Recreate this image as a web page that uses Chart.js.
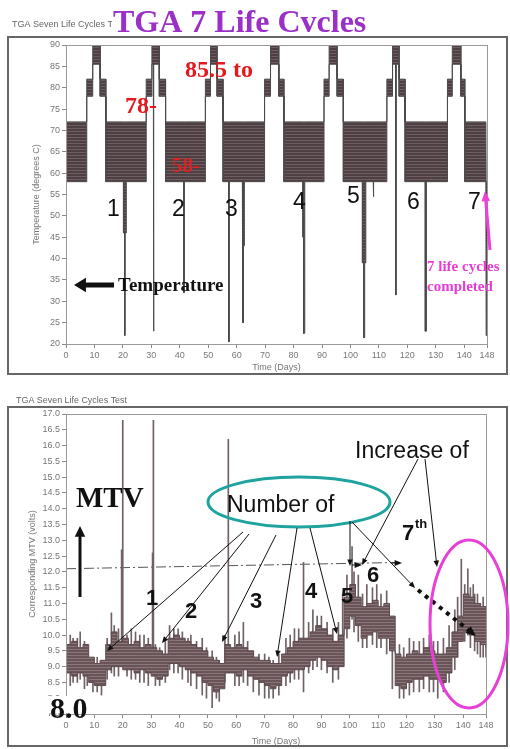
<!DOCTYPE html>
<html>
<head>
<meta charset="utf-8">
<script src="https://cdn.jsdelivr.net/npm/chart.js@4.4.0/dist/chart.umd.min.js"></script>
<style>
  body { margin: 0; background: #fff; width: 510px; height: 749px; overflow: hidden; position: relative; }
  canvas { position: absolute; left: 0; }
  #tempChart { top: 0; }
  #mtvChart { top: 380px; }
</style>
</head>
<body>
<canvas id="tempChart" width="510" height="380"></canvas>
<canvas id="mtvChart" width="510" height="369"></canvas>
<script>
// x axis ticks shared by both panels
const dayTicks = [0, 10, 20, 30, 40, 50, 60, 70, 80, 90, 100, 110, 120, 130, 140, 148];

// temperature record, read as blocks: [start day, end day, low degC, high degC]
const tempBlocks = [
  [0, 7.3, 58, 72],
  [7.3, 9.4, 78, 82], [9.4, 12.0, 85.5, 90], [12.0, 14.0, 78, 82],
  [14.0, 20.2, 58, 72], [20.2, 20.6, 46, 72], [20.6, 20.8, 22, 72], [20.8, 21.2, 46, 72], [21.2, 28.2, 58, 72],
  [28.2, 30.2, 78, 82], [30.2, 30.7, 85.5, 90], [30.7, 30.9, 23, 90], [30.9, 32.8, 85.5, 90], [32.8, 35.0, 78, 82],
  [35.0, 41.4, 58, 72], [41.4, 41.6, 32, 72], [41.6, 49.0, 58, 72],
  [49.0, 50.8, 78, 82], [50.8, 53.1, 85.5, 90], [53.1, 55.2, 78, 82],
  [55.2, 57.2, 58, 72], [57.2, 57.4, 20.5, 72], [57.4, 62.0, 58, 72], [62.0, 62.2, 43, 72], [62.2, 62.4, 25, 72], [62.4, 62.7, 43, 72], [62.7, 69.8, 58, 72],
  [69.8, 71.9, 78, 82], [71.9, 74.8, 85.5, 90], [74.8, 76.6, 78, 82],
  [76.6, 83.3, 58, 72], [83.3, 83.5, 45, 72], [83.5, 83.8, 22.5, 72], [83.8, 84.0, 45, 72], [84.0, 90.7, 58, 72],
  [90.7, 92.5, 78, 82], [92.5, 95.3, 85.5, 90], [95.3, 97.5, 78, 82],
  [97.5, 104.2, 58, 72], [104.2, 104.6, 39, 72], [104.6, 105.0, 21.5, 72], [105.0, 105.4, 39, 72], [105.4, 108.0, 58, 72], [108.0, 108.2, 54.5, 72], [108.2, 112.8, 58, 72],
  [112.8, 114.8, 78, 82], [114.8, 115.9, 85.5, 90], [115.9, 116.1, 31.5, 90], [116.1, 117.1, 85.5, 90], [117.1, 119.2, 78, 82],
  [119.2, 126.3, 58, 72], [126.3, 126.7, 23, 72], [126.7, 134.1, 58, 72],
  [134.1, 135.8, 78, 82], [135.8, 138.8, 85.5, 90], [138.8, 140.2, 78, 82],
  [140.2, 147.6, 58, 72], [147.7, 148, 22, 58]
];

// MTV trace envelope, every 2 days
const mtvDays = [0,2,4,6,8,10,12,14,16,18,20,22,24,26,28,30,32,34,36,38,40,42,44,46,48,50,52,54,56,58,60,62,64,66,68,70,72,74,76,78,80,82,84,86,88,90,92,94,96,98,100,102,104,106,108,110,112,114,116,118,120,122,124,126,128,130,132,134,136,138,140,142,144,146,148];
const mtvHigh = [9.7,9.8,9.6,9.7,9.3,9.1,9.2,9.7,10.1,9.8,9.9,9.7,9.8,9.6,9.7,9.6,9.5,9.4,9.9,10.0,9.9,9.8,9.7,9.6,9.5,9.3,9.2,9.1,9.7,9.6,9.7,9.6,9.5,9.3,9.2,9.2,9.1,9.1,9.4,9.6,9.8,9.9,9.9,10.1,10.3,10.2,10.0,9.8,10.0,11.2,11.6,11.2,10.9,11.0,11.1,10.9,11.0,10.6,9.4,9.3,9.4,9.5,9.4,9.6,9.5,9.4,9.4,9.6,10.1,10.6,11.3,11.2,11.0,10.9,10.8];
const mtvLow = [8.8,8.7,8.8,8.7,8.5,8.4,8.4,8.9,9.0,9.0,8.9,8.9,8.8,8.9,8.8,8.7,8.6,8.7,9.1,9.1,9.0,8.9,8.8,8.7,8.5,8.4,8.2,8.3,8.8,8.8,8.7,8.9,8.7,8.6,8.5,8.4,8.3,8.4,8.7,8.8,8.9,8.9,9.0,9.2,9.3,9.2,9.0,8.9,9.0,10.2,10.6,10.3,9.9,10.0,10.1,9.9,9.9,9.5,8.4,8.3,8.5,8.6,8.6,8.7,8.6,8.6,8.5,8.8,9.3,9.8,10.1,10.0,9.8,9.7,9.6];

// single readings that stick out of the trace
const hairDays = [20.0,19.6,30.8,30.5,57.2,83.7,100.8,139.3,141.6,143.5,1.5,4.0,6.5,9.5,12.5,16.0,18.5,23.0,26.0,29.0,33.0,36.5,39.5,44.0,48.0,51.5,54.0,59.5,62.5,66.0,70.0,73.0,77.5,80.5,87.0,90.0,94.0,97.5,103.0,106.0,109.5,113.0,117.5,121.0,124.5,128.0,131.0,135.0,137.0,145.0,147.0,
  2.5,5.0,7.5,11.0,14.5,17.0,21.5,24.5,27.5,31.5,35.0,38.0,41.0,43.0,46.0,49.5,53.0,56.0,61.0,64.0,68.0,71.5,75.0,79.0,82.0,85.5,88.5,92.0,96.0,99.0,101.5,104.5,108.0,111.0,115.0,119.0,122.5,126.0,129.5,133.0,138.0,140.5,142.5,144.0,146.0,148.0];
const hairLow  = [9.2,9.0,9.0,9.0,9.0,8.2,10.5,10.0,10.0,10.0,8.4,8.5,8.3,8.2,8.1,8.8,8.7,8.6,8.5,8.4,8.4,8.9,8.8,8.4,8.1,7.7,7.9,8.4,8.5,8.2,8.0,8.0,8.4,8.6,8.9,8.9,8.5,9.5,9.8,9.6,9.6,9.4,8.0,8.1,8.2,8.2,8.0,8.5,8.9,9.4,9.3,
  8.5,8.6,8.4,8.2,8.6,8.7,8.7,8.6,8.5,8.4,8.5,8.8,8.6,8.5,8.3,8.0,8.0,8.5,8.4,8.4,8.1,8.0,8.1,8.5,8.6,8.8,9.0,8.8,8.6,9.9,10.1,9.6,9.7,9.6,8.3,8.0,8.2,8.3,8.2,8.2,9.3,9.8,9.6,9.5,9.3,9.3];
const hairHigh = [16.8,12.7,16.8,12.6,16.2,12.3,12.8,12.4,12.1,11.6,10.0,9.9,9.8,9.2,9.0,10.7,10.2,10.2,10.0,9.9,9.6,10.3,10.2,10.0,9.9,9.5,9.2,10.0,10.4,9.5,9.4,9.2,9.9,10.2,10.8,10.6,10.2,11.3,11.9,11.6,11.6,11.4,9.7,9.9,9.8,10.0,9.8,10.3,10.8,11.3,11.2,
  9.9,10.1,9.6,9.3,9.9,10.3,10.0,10.1,10.0,9.7,9.8,10.2,10.1,9.9,9.8,9.6,9.3,10.0,10.1,9.8,9.4,9.3,9.4,10.0,10.2,10.4,10.6,10.4,10.4,11.9,12.0,11.3,11.5,11.3,10.3,9.6,9.8,9.9,9.8,9.9,11.2,11.6,11.5,11.3,11.0,10.9];

// dash-dot reference line
const trendDays = [0, 118];
const trendMtv = [12.1, 12.3];

const tickFont = { family: 'Liberation Sans', size: 9 };

function stripes(dark, light) {
  const c = document.createElement('canvas');
  c.width = 1; c.height = 3;
  const x = c.getContext('2d');
  x.fillStyle = dark; x.fillRect(0, 0, 1, 3);
  x.fillStyle = light; x.fillRect(0, 2, 1, 1);
  return x.createPattern(c, 'repeat');
}

function scales(yMin, yMax, step, yTitle, yTitlePad, xHeight, xTitlePad, fmt) {
  return {
    x: {
      type: 'linear', min: 0, max: 148, offset: false,
      afterBuildTicks: s => { s.ticks = dayTicks.map(v => ({ value: v })); },
      afterFit: s => { s.height = xHeight; },
      grid: { drawOnChartArea: false, offset: false, tickLength: 4, color: '#888' },
      border: { color: '#888' },
      ticks: { color: '#777', font: tickFont, padding: 2, maxRotation: 0, autoSkip: false },
      title: { display: true, text: 'Time (Days)', color: '#777', font: tickFont, padding: { top: 0, bottom: xTitlePad } }
    },
    y: {
      min: yMin, max: yMax,
      afterFit: s => { s.width = 66; },
      grid: { drawOnChartArea: false, tickLength: 4, color: '#888' },
      border: { color: '#888' },
      ticks: { stepSize: step, color: '#777', font: tickFont, padding: 2, callback: fmt },
      title: { display: true, text: yTitle, color: '#777', font: tickFont, padding: { top: yTitlePad, bottom: 0 } }
    }
  };
}

function text(ctx, s, x, y, font, color, maxW) {
  ctx.font = font; ctx.fillStyle = color; ctx.textBaseline = 'alphabetic'; ctx.textAlign = 'left';
  if (maxW) ctx.fillText(s, x, y, maxW); else ctx.fillText(s, x, y);
}

function arrow(ctx, x1, y1, x2, y2, o = {}) {
  const w = o.w || 1, h = o.head || 7, c = o.color || '#111';
  const a = Math.atan2(y2 - y1, x2 - x1);
  ctx.save();
  ctx.strokeStyle = c; ctx.fillStyle = c; ctx.lineWidth = w;
  ctx.setLineDash(o.dash || []);
  ctx.beginPath();
  ctx.moveTo(x1, y1);
  ctx.lineTo(x2 - Math.cos(a) * h * 0.8, y2 - Math.sin(a) * h * 0.8);
  ctx.stroke();
  ctx.setLineDash([]);
  const sp = o.spread || 0.4;
  ctx.beginPath();
  ctx.moveTo(x2, y2);
  ctx.lineTo(x2 - h * Math.cos(a - sp), y2 - h * Math.sin(a - sp));
  ctx.lineTo(x2 - h * Math.cos(a + sp), y2 - h * Math.sin(a + sp));
  ctx.closePath();
  ctx.fill();
  ctx.restore();
}

function frame(ctx, area, r) {
  ctx.save();
  ctx.strokeStyle = '#666'; ctx.lineWidth = 2;
  ctx.strokeRect(r[0], r[1], r[2], r[3]);
  ctx.strokeStyle = '#999'; ctx.lineWidth = 1;
  ctx.strokeRect(area.left + 0.5, area.top + 0.5, area.right - area.left, area.bottom - area.top);
  ctx.restore();
}

// ---------- top panel: temperature ----------
const upper = [], lower = [];
tempBlocks.forEach(([a, b, lo, hi]) => {
  upper.push({ x: a, y: hi }, { x: b, y: hi });
  lower.push({ x: a, y: lo }, { x: b, y: lo });
});

const tempCtx = document.getElementById('tempChart').getContext('2d');
new Chart(tempCtx, {
  type: 'line',
  data: {
    datasets: [
      { data: upper, borderColor: '#4a4a4a', borderWidth: 1, pointRadius: 0, fill: false },
      { data: lower, borderColor: '#4a4a4a', borderWidth: 1, pointRadius: 0, fill: '-1',
        backgroundColor: stripes('#4d3f42', '#6c5e61') }
    ]
  },
  options: {
    responsive: false, animation: false, devicePixelRatio: 1,
    layout: { padding: { top: 45, right: 23, bottom: 0, left: 0 } },
    plugins: { legend: { display: false }, tooltip: { enabled: false } },
    scales: scales(20, 90, 5, 'Temperature (degrees C)', 31, 36, 7)
  },
  plugins: [{
    id: 'tempNotes',
    afterDraw(chart) {
      const ctx = chart.ctx;
      frame(ctx, chart.chartArea, [8, 37, 499, 337]);
      ctx.save();
      ctx.beginPath(); ctx.rect(0, 0, 112, 36); ctx.clip();
      text(ctx, 'TGA Seven Life Cycles Test', 12, 27, '9px "Liberation Sans"', '#666', 116);
      ctx.restore();
      text(ctx, 'TGA 7 Life Cvcles', 113, 32, 'bold 32px "Liberation Serif"', '#9b30c9', 266);
      text(ctx, '85.5 to', 185, 77, 'bold 24px "Liberation Serif"', '#e3191c');
      text(ctx, '78-', 125, 113, 'bold 24px "Liberation Serif"', '#e3191c');
      text(ctx, '58-', 172, 172, 'bold 21px "Liberation Serif"', 'rgba(235,30,30,0.9)');
      const nums = [['1', 107, 216], ['2', 172, 216], ['3', 225, 216], ['4', 293, 209], ['5', 347, 203], ['6', 407, 209], ['7', 468, 209]];
      nums.forEach(([s, x, y]) => text(ctx, s, x, y, '23px "Liberation Sans"', '#111'));
      arrow(ctx, 114, 285, 74, 285, { w: 5, head: 14, spread: 0.55 });
      text(ctx, 'Temperature', 118, 291, 'bold 19px "Liberation Serif"', '#111', 110);
      arrow(ctx, 490, 250, 485, 191, { w: 3, head: 11, color: '#f03fd8' });
      text(ctx, '7 life cycles', 427, 271, 'bold 15px "Liberation Serif"', '#e73bd6', 82);
      text(ctx, 'completed', 427, 291, 'bold 15px "Liberation Serif"', '#e73bd6', 74);
    }
  }]
});

// ---------- bottom panel: MTV ----------
const mtvCtx = document.getElementById('mtvChart').getContext('2d');
new Chart(mtvCtx, {
  type: 'line',
  data: {
    datasets: [
      { data: mtvDays.map((d, i) => ({ x: d, y: mtvHigh[i] })), borderColor: '#5e4a4e', borderWidth: 1,
        pointRadius: 0, stepped: true, fill: false },
      { data: mtvDays.map((d, i) => ({ x: d, y: mtvLow[i] })), borderColor: '#5e4a4e', borderWidth: 1,
        pointRadius: 0, stepped: true, fill: '-1', backgroundColor: stripes('#6a5458', '#87777a') },
      { type: 'bar', data: hairDays.map((d, i) => ({ x: d, y: [hairLow[i], hairHigh[i]] })),
        backgroundColor: '#6f6165', barThickness: 1, borderWidth: 0 },
      { data: trendDays.map((d, i) => ({ x: d, y: trendMtv[i] })), borderColor: '#555', borderWidth: 1,
        borderDash: [10, 3, 2, 3], pointRadius: 0, fill: false }
    ]
  },
  options: {
    responsive: false, animation: false, devicePixelRatio: 1,
    layout: { padding: { top: 34, right: 24, bottom: 0, left: 0 } },
    plugins: { legend: { display: false }, tooltip: { enabled: false } },
    scales: scales(7.5, 17, 0.5, 'Corresponding MTV (volts)', 27, 35, 2, v => v.toFixed(1))
  },
  plugins: [{
    id: 'mtvNotes',
    afterDraw(chart) {
      const ctx = chart.ctx;
      const a = chart.chartArea;
      ctx.save();
      ctx.translate(0, -380);
      frame(ctx, { left: a.left, right: a.right, top: a.top + 380, bottom: a.bottom + 380 }, [8, 407, 499, 339]);
      text(ctx, 'TGA Seven Life Cycles Test', 16, 403, '9.5px "Liberation Sans"', '#666', 111);
      text(ctx, 'MTV', 76, 507, 'bold 29px "Liberation Serif"', '#111', 77);
      arrow(ctx, 80, 597, 80, 526, { w: 3, head: 12, spread: 0.45 });
      ctx.fillStyle = '#fff'; ctx.fillRect(48, 696, 46, 17);
      text(ctx, '8.0', 50, 718, 'bold 30px "Liberation Serif"', '#111', 43);
      // teal ellipse and its arrows
      ctx.strokeStyle = '#1fa39f'; ctx.lineWidth = 3;
      ctx.beginPath(); ctx.ellipse(299, 502, 91, 25, 0, 0, Math.PI * 2); ctx.stroke();
      text(ctx, 'Number of', 227, 512, '23px "Liberation Sans"', '#111', 116);
      arrow(ctx, 243, 532, 107, 651);
      arrow(ctx, 249, 534, 162, 643);
      arrow(ctx, 276, 535, 222, 642);
      arrow(ctx, 297, 528, 277, 657);
      arrow(ctx, 310, 528, 337, 634);
      arrow(ctx, 350, 521, 350, 566);
      arrow(ctx, 352, 522, 415, 588);
      arrow(ctx, 418, 590, 476, 636, { w: 4, head: 11, dash: [4, 5] });
      arrow(ctx, 352, 565, 362, 565, { head: 8 });
      arrow(ctx, 392, 563, 402, 563, { head: 8 });
      text(ctx, 'Increase of', 355, 458, '23px "Liberation Sans"', '#111', 122);
      arrow(ctx, 418, 459, 362, 565);
      arrow(ctx, 425, 459, 437, 567);
      text(ctx, '7', 402, 540, 'bold 22px "Liberation Sans"', '#111');
      text(ctx, 'th', 415, 528, 'bold 13px "Liberation Sans"', '#111');
      const nums = [['1', 146, 605], ['2', 185, 618], ['3', 250, 608], ['4', 305, 598], ['5', 341, 603], ['6', 367, 582]];
      nums.forEach(([s, x, y]) => text(ctx, s, x, y, 'bold 22px "Liberation Sans"', '#111'));
      ctx.strokeStyle = '#e83fd6'; ctx.lineWidth = 3;
      ctx.beginPath(); ctx.ellipse(469, 624, 39, 84, 0, 0, Math.PI * 2); ctx.stroke();
      ctx.restore();
    }
  }]
});
</script>
</body>
</html>
